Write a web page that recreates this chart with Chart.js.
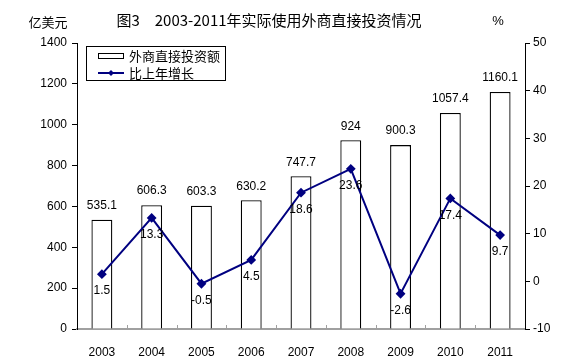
<!DOCTYPE html>
<html>
<head>
<meta charset="utf-8">
<script src="https://cdn.jsdelivr.net/npm/chart.js@4.4.1/dist/chart.umd.min.js"></script>
<style>
  html, body { margin: 0; padding: 0; background: #fff; }
  #wrap { width: 566px; height: 363px; }
</style>
</head>
<body>
<div id="wrap"><canvas id="myChart" width="566" height="363"></canvas></div>
<script>
// data
const years = ['2003', '2004', '2005', '2006', '2007', '2008', '2009', '2010', '2011'];
const fdiAmount = [535.1, 606.3, 603.3, 630.2, 747.7, 924, 900.3, 1057.4, 1160.1];
const growthRate = [1.5, 13.3, -0.5, 4.5, 18.6, 23.6, -2.6, 17.4, 9.7];
const amountLabels = ['535.1', '606.3', '603.3', '630.2', '747.7', '924', '900.3', '1057.4', '1160.1'];
const growthLabels = ['1.5', '13.3', '-0.5', '4.5', '18.6', '23.6', '-2.6', '17.4', '9.7'];

const titleText = '图3　2003-2011年实际使用外商直接投资情况';
const leftUnit = '亿美元';
const rightUnit = '%';

const FONT = '"Liberation Sans", Arial, "Noto Sans CJK SC", sans-serif';
const CJK = '"Noto Sans CJK SC", "Liberation Sans", sans-serif';
const navy = '#000080';

// title, units, legend, value labels and inner x ticks
const extras = {
    id: 'extras',
    afterDraw(chart) {
        const ctx = chart.ctx;
        const area = chart.chartArea;
        ctx.save();

        ctx.fillStyle = '#000';
        ctx.textBaseline = 'middle';
        ctx.textAlign = 'center';
        ctx.font = '15px ' + CJK;
        ctx.fillText(titleText, 269, 20);
        ctx.font = '13px ' + CJK;
        ctx.fillText(leftUnit, 48, 22);
        ctx.font = '13px ' + FONT;
        ctx.fillText(rightUnit, 498, 21);

        // small ticks on the x axis pointing up
        const xs = chart.scales.x;
        ctx.strokeStyle = '#a0a0a0';
        ctx.lineWidth = 1;
        for (let i = 1; i < years.length; i++) {
            const px = Math.round((xs.getPixelForValue(i - 1) + xs.getPixelForValue(i)) / 2) + 0.5;
            ctx.beginPath();
            ctx.moveTo(px, area.bottom);
            ctx.lineTo(px, area.bottom - 4);
            ctx.stroke();
        }

        // value labels
        ctx.fillStyle = '#000';
        ctx.font = '12px ' + FONT;
        ctx.textAlign = 'center';
        const barMeta = chart.getDatasetMeta(0);
        barMeta.data.forEach((el, i) => {
            ctx.fillText(amountLabels[i], el.x, el.y - 14);
        });
        const lineMeta = chart.getDatasetMeta(1);
        lineMeta.data.forEach((el, i) => {
            ctx.fillText(growthLabels[i], el.x, el.y + 17);
        });

        // legend
        ctx.fillStyle = '#fff';
        ctx.fillRect(86.5, 46.5, 139, 34);
        ctx.strokeStyle = '#000';
        ctx.lineWidth = 1;
        ctx.strokeRect(86.5, 46.5, 139, 34);
        ctx.strokeRect(98.5, 53.5, 25, 5);
        ctx.strokeStyle = navy;
        ctx.lineWidth = 2;
        ctx.beginPath();
        ctx.moveTo(98, 73);
        ctx.lineTo(124, 73);
        ctx.stroke();
        ctx.fillStyle = navy;
        ctx.beginPath();
        ctx.moveTo(111, 70);
        ctx.lineTo(114, 73);
        ctx.lineTo(111, 76);
        ctx.lineTo(108, 73);
        ctx.closePath();
        ctx.fill();
        ctx.fillStyle = '#000';
        ctx.textAlign = 'left';
        ctx.font = '13px ' + CJK;
        ctx.fillText(chart.data.datasets[0].label, 129, 56);
        ctx.fillText(chart.data.datasets[1].label, 129, 73);

        ctx.restore();
    }
};

function plainTick(value) {
    return String(value);
}

function showChart() {
    const ctx = document.getElementById('myChart');
    new Chart(ctx, {
        data: {
            labels: years,
            datasets: [{
                type: 'bar',
                label: '外商直接投资额',
                data: fdiAmount,
                yAxisID: 'y',
                backgroundColor: '#ffffff',
                borderColor: '#000000',
                borderWidth: 1.3,
                barPercentage: 0.42,
                categoryPercentage: 1,
                order: 2
            }, {
                type: 'line',
                label: '比上年增长',
                data: growthRate,
                yAxisID: 'y1',
                borderColor: navy,
                backgroundColor: navy,
                borderWidth: 2,
                pointStyle: 'rectRot',
                pointRadius: 3.5,
                tension: 0,
                order: 1
            }]
        },
        options: {
            responsive: false,
            animation: false,
            layout: { padding: { top: 43, left: 0, right: 0, bottom: 0 } },
            plugins: {
                legend: { display: false },
                tooltip: { enabled: false },
                title: { display: false }
            },
            scales: {
                x: {
                    grid: { display: false },
                    border: { color: '#a0a0a0', width: 2 },
                    ticks: { color: '#000', font: { family: FONT, size: 12 }, padding: 8 },
                    afterFit(s) { s.height = 34; }
                },
                y: {
                    position: 'left',
                    min: 0,
                    max: 1400,
                    ticks: { stepSize: 200, color: '#000', font: { family: FONT, size: 12 }, padding: 5, callback: plainTick },
                    grid: { drawOnChartArea: false, color: '#000', tickLength: 5 },
                    border: { color: '#000', width: 1 },
                    afterFit(s) { s.width = 77; }
                },
                y1: {
                    position: 'right',
                    min: -10,
                    max: 50,
                    ticks: { stepSize: 10, color: '#000', font: { family: FONT, size: 12 }, padding: 3, callback: plainTick },
                    grid: { drawOnChartArea: false, color: '#000', tickLength: 5 },
                    border: { color: '#000', width: 1 },
                    afterFit(s) { s.width = 41; }
                }
            }
        },
        plugins: [extras]
    });
}

window.onload = showChart;
</script>
</body>
</html>
